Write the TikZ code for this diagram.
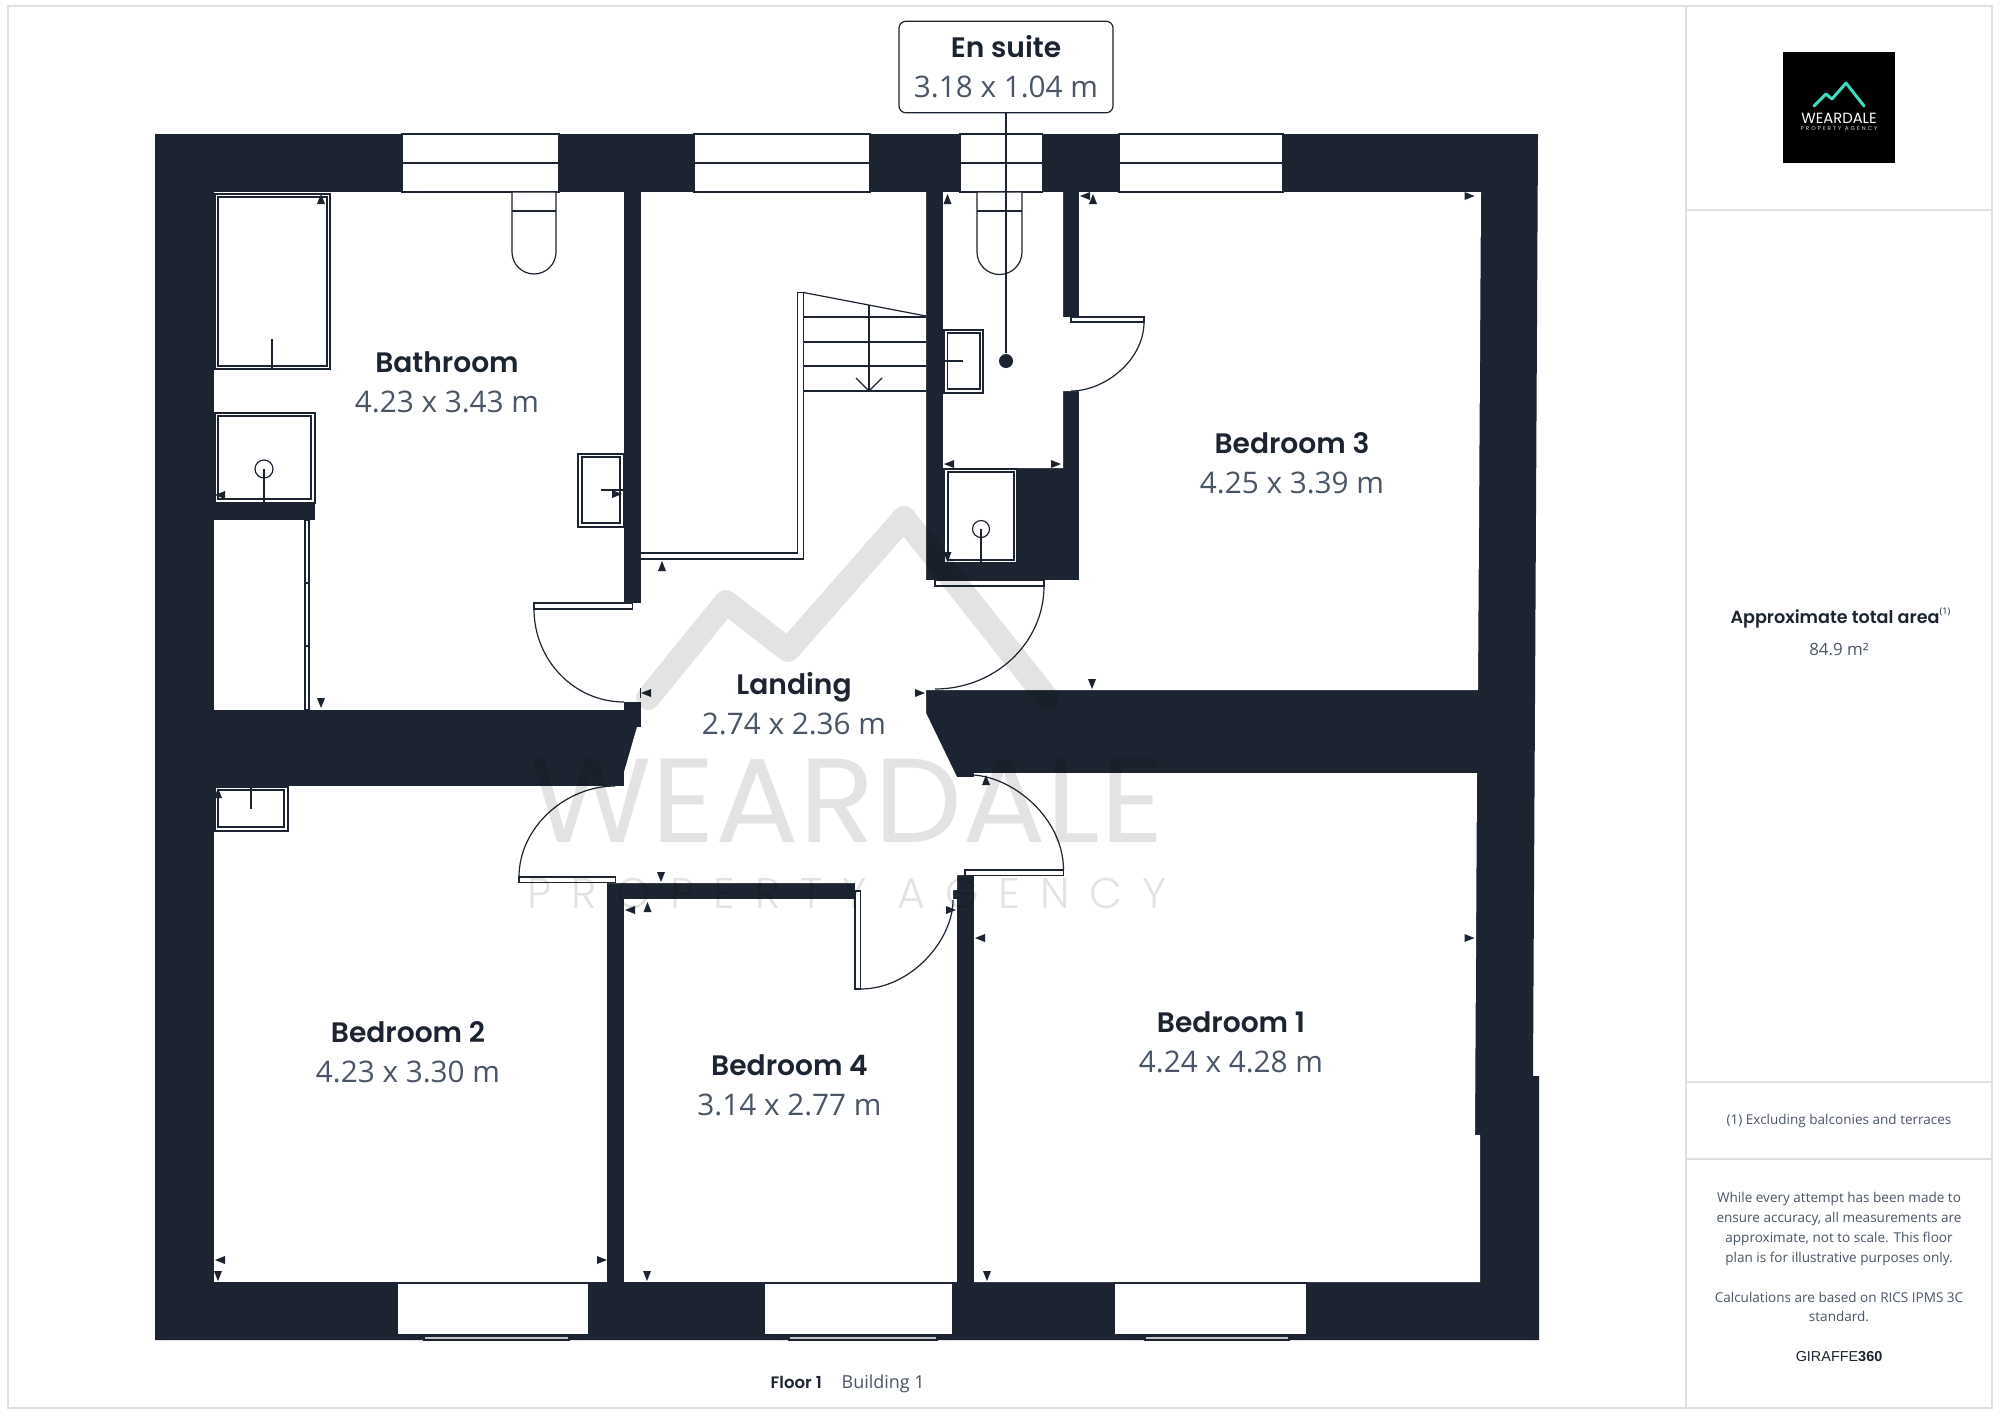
\documentclass[tikz,border=0pt]{standalone}
\usepackage{fontspec}
\setmainfont{Open Sans}
\newfontfamily\titlefont{Poppins SemiBold}
\newfontfamily\brandfont{Poppins}
\newfontfamily\spacedfont[LetterSpace=46]{Poppins Light}
\newfontfamily\logospaced[LetterSpace=35]{Poppins}
\newfontfamily\makerfont{Liberation Sans}
\definecolor{wallcol}{HTML}{1B2430}
\definecolor{dimcol}{HTML}{4A5565}
\definecolor{framecol}{HTML}{E0E0E0}
\definecolor{tealcol}{HTML}{3FDCC0}
\newcommand{\roomlabel}[5]{%
  \node[roomtitle] (#1title) at (#2,#3) {#4};
  \node[roomsize] (#1size) at (#2,#3+40) {#5};}
\newcommand{\tickmark}[3]{%
  \fill[wallcol,shift={(#1,#2)},rotate=#3] (-4,-5) -- (4,-5) -- (0,5) -- cycle;}
\begin{document}
\begin{tikzpicture}[
              x=0.01cm, y=-0.01cm,
              wall/.style={fill=wallcol},
              room/.style={fill=white},
              fitting/.style={draw=wallcol, line width=.34pt, fill=white},
              thinline/.style={draw=wallcol, line width=.34pt},
              frame/.style={draw=framecol, line width=.45pt},
              mark line/.style={draw=black, opacity=.11, line width=6.8pt, line cap=round, line join=round},
              roomtitle/.style={anchor=base, text=wallcol, font=\titlefont\fontsize{8}{10}\selectfont},
              roomsize/.style={anchor=base, text=dimcol, font=\fontsize{8.45}{10}\selectfont},
              sidetext/.style={align=center, text=dimcol, font=\fontsize{3.85}{5.63}\selectfont}
            ]
              \useasboundingbox (0,0) rectangle (2000,1415);
              \fill[white] (0,0) rectangle (2000,1415);

              % sheet frame
              \draw[frame] (8,6) rectangle (1992,1408);
              \draw[frame] (1686,6) -- (1686,1408);
              \draw[frame] (1686,210) -- (1992,210);
              \draw[frame] (1686,1082) -- (1992,1082);
              \draw[frame] (1686,1159) -- (1992,1159);

              % walls and rooms
              \fill[wall] (155,134) -- (1538,134) -- (1533,1076) -- (1539,1076) -- (1539,1340) -- (155,1340) -- cycle;
              \fill[room] (214,192) rectangle (624,710);
              \fill[room] (620,603) rectangle (645,702);
              \fill[room] (641,192) -- (926,192) -- (926,713) -- (957,777) -- (974,777) -- (974,875)
                -- (957,875) -- (957,890) -- (953,890) -- (953,900) -- (855,900) -- (855,883) -- (607,883)
                -- (607,786) -- (624,786) -- (624,772) -- (637,727) -- (641,727) -- cycle;
              \fill[room] (943,192) -- (1063,192) -- (1063,317) -- (1080,317) -- (1080,391) -- (1063,391)
                -- (1063,468) -- (1017.5,468) -- (1017.5,563) -- (943,563) -- cycle;
              \fill[room] (1079,192) -- (1481,192) -- (1478,690) -- (926,690) -- (926,580) -- (1079,580) -- cycle;
              \fill[room] (214,786) rectangle (607,1282);
              \fill[room] (624,899) rectangle (957,1282);
              \fill[room] (974,773) -- (1477,773) -- (1475,1135) -- (1480,1135) -- (1480,1282) -- (974,1282) -- cycle;
              \fill[wall] (214,503) rectangle (315,520);

              % top windows
              \foreach \xa/\xb in {402/559, 694/870, 960/1042.5, 1119/1283} {
                \draw[fitting] (\xa,134) rectangle (\xb,192);
                \draw[thinline] (\xa,163) -- (\xb,163);
              }
              % bottom windows
              \foreach \xa/\xb/\xc/\xd in {397/589/424/569, 764/953/789/937, 1114/1307/1145/1289} {
                \draw[fitting] (\xa,1283) rectangle (\xb,1335);
                \draw[thinline, fill=framecol!70!gray] (\xc,1336) rectangle (\xd,1340);
              }

              % bathroom fittings
              \draw[fitting] (215,194) rectangle (330,369);
              \draw[thinline] (218,197) rectangle (327,366);
              \draw[thinline] (272,339) -- (272,369);
              \draw[fitting] (512,192) -- (512,252) arc[start angle=180, end angle=0, radius=22] -- (556,192) -- cycle;
              \draw[thinline] (512,211) -- (556,211);
              \draw[fitting] (215,413) rectangle (315,503);
              \draw[thinline] (218,416) rectangle (311,499);
              \draw[thinline] (264,469) circle[radius=9];
              \draw[thinline] (264,469) -- (264,503);
              \draw[fitting] (578,454) rectangle (624,527);
              \draw[thinline] (582,457) rectangle (620,523);
              \draw[thinline] (601,490) -- (624,490);
              \draw[fitting] (305,520) rectangle (309,710);
              \draw[thinline] (305,583) -- (309,583);
              \draw[thinline] (305,646) -- (309,646);

              % stairs
              \draw[fitting] (641,559) -- (803.5,559) -- (803.5,292.5) -- (797.5,292.5) -- (797.5,553) -- (641,553);
              \draw[thinline] (803.5,292.5) -- (926,316);
              \foreach \ty in {317, 342, 366, 391} {
                \draw[thinline] (803.5,\ty) -- (926,\ty);
              }
              \draw[thinline] (869,305) -- (869,391);
              \draw[thinline] (856,378) -- (869,391) -- (882,378);

              % en suite fittings
              \draw[fitting] (977,192) -- (977,252) arc[start angle=180, end angle=0, radius=22.5] -- (1022,192) -- cycle;
              \draw[thinline] (977,211) -- (1022,211);
              \draw[fitting] (944,330) rectangle (983,393);
              \draw[thinline] (947.5,333) rectangle (980,389);
              \draw[thinline] (943,361) -- (963,361);
              \draw[fitting] (944,469) rectangle (1017,563);
              \draw[thinline] (948,472) rectangle (1014,560);
              \draw[thinline] (981,529) circle[radius=8.5];
              \draw[thinline] (981,529) -- (981,563);

              % bedroom 2 fitting
              \draw[fitting] (215,787) rectangle (288,831);
              \draw[thinline] (218,790) rectangle (284,827);
              \draw[thinline] (251,787) -- (251,809);

              % doors
              \draw[fitting] (534,603) rectangle (632.5,609);
              \draw[thinline] (534,609) .. controls (534,660) and (574,702) .. (624,702);
              \draw[fitting] (935,580) rectangle (1044,586);
              \draw[thinline] (1044,586) .. controls (1044,643) and (995,689) .. (935,689);
              \draw[fitting] (519,877) rectangle (615.5,882.5);
              \draw[thinline] (519,877) .. controls (519,827) and (566,786) .. (615,786);
              \draw[fitting] (965,870) rectangle (1063.5,875.5);
              \draw[thinline] (1063.5,870) .. controls (1063.5,818) and (1013,777) .. (973,775);
              \draw[fitting] (855,891) rectangle (860.5,989);
              \draw[thinline] (860.5,989) .. controls (911,989) and (953,940) .. (953,900);
              \draw[fitting] (1071,317) rectangle (1144,322);
              \draw[thinline] (1144,322) .. controls (1144,360) and (1105,391) .. (1071,391);

              % dimension marks
              \foreach \mx/\my/\ma in {321/199/180, 220/495/270, 617/494/90, 321/703/0,
                                       947.5/199/180, 947.5/557/0, 949/464/270, 1056/464/90,
                                       1085/196/270, 1093/199/180, 1469.5/196/90, 1092/684/0,
                                       662/566/180, 646/693/270, 920/693/90, 661/877/0,
                                       630/910/270, 647.5/907/180, 951/910/90, 647/1276/0,
                                       980/938/270, 986/780/180, 1469.5/938/90, 987/1276/0,
                                       218/793/180, 220/1260/270, 602/1260/90, 218/1276/0} {
                \tickmark{\mx}{\my}{\ma}
              }
              \draw[thinline] (640.5,688) -- (640.5,698);

              % watermark
              \draw[mark line] (648,698) -- (726,602) -- (788,650) -- (904,518) -- (1047,698);
              \node[text=black, opacity=.11, font=\brandfont\fontsize{34}{40}\selectfont] (markname) at (847,801) {\scalebox{1.04}[1]{WEARDALE}};
              \node[text=black, opacity=.11, font=\spacedfont\fontsize{12.2}{14}\selectfont] (marksub) at (847,893) {PROPERTY AGENCY};

              % en suite call-out
              \node[draw=wallcol, line width=.34pt, fill=white, rounded corners=2pt, minimum width=2.14cm, minimum height=.915cm, inner sep=0pt] (ensuitebox) at (1006,67) {};
              \node[circle, fill=wallcol, inner sep=0pt, minimum size=.14cm] (ensuitedot) at (1006,361) {};
              \draw[thinline] (ensuitebox.south) -- (ensuitedot);

              % room labels
              \roomlabel{bath}{447}{372.5}{Bathroom}{4.23 x 3.43 m}
              \roomlabel{bedthree}{1292}{453}{Bedroom 3}{4.25 x 3.39 m}
              \roomlabel{landing}{794}{694}{Landing}{2.74 x 2.36 m}
              \roomlabel{bedtwo}{408}{1042}{Bedroom 2}{4.23 x 3.30 m}
              \roomlabel{bedfour}{789.5}{1075}{Bedroom 4}{3.14 x 2.77 m}
              \roomlabel{bedone}{1231}{1032}{Bedroom 1}{4.24 x 4.28 m}
              \roomlabel{ensuite}{1006}{57.5}{En suite}{3.18 x 1.04 m}

              % floor caption
              \node[anchor=base west, inner sep=0pt, text=wallcol, font=\titlefont\fontsize{4.7}{6}\selectfont] (floorname) at (770,1388) {Floor 1};
              \node[anchor=base west, inner sep=0pt, text=dimcol, font=\fontsize{5.1}{6}\selectfont] (buildingname) at (841,1388) {Building 1};

              % logo
              \fill[black] (1783,52) rectangle (1895,163);
              \draw[tealcol, line width=.85pt, line cap=round, line join=round] (1814,106) -- (1826,94) -- (1832,99) -- (1846,83) -- (1864,106);
              \node[text=white, font=\brandfont\fontsize{4.2}{5}\selectfont] (logoname) at (1839,118) {WEARDALE};
              \node[text=white!85!black, font=\logospaced\fontsize{1.6}{2}\selectfont] (logosub) at (1839,129) {PROPERTY AGENCY};

              % side panel
              \node[text=wallcol, font=\titlefont\fontsize{5}{6}\selectfont] (areatitle) at (1835,618.5) {Approximate total area};
              \node[anchor=west, text=wallcol, font=\fontsize{2.6}{3}\selectfont, inner sep=0pt] (areanote) at (1939,612) {(1)};
              \node[sidetext, font=\fontsize{4.8}{6}\selectfont] (areavalue) at (1839,649) {84.9 m²};
              \node[sidetext] (notetext) at (1839,1121) {(1) Excluding balconies and terraces};
              \node[sidetext] (disclaimer) at (1839,1229) {While every attempt has been made to\\ensure accuracy, all measurements are\\approximate, not to scale. This floor\\plan is for illustrative purposes only.};
              \node[sidetext] (standardtext) at (1839,1307) {Calculations are based on RICS IPMS 3C\\standard.};
              \node[text=wallcol, font=\makerfont\fontsize{4.1}{5}\selectfont] (makername) at (1839,1357) {GIRAFFE\textbf{360}};
            \end{tikzpicture}
\end{document}
